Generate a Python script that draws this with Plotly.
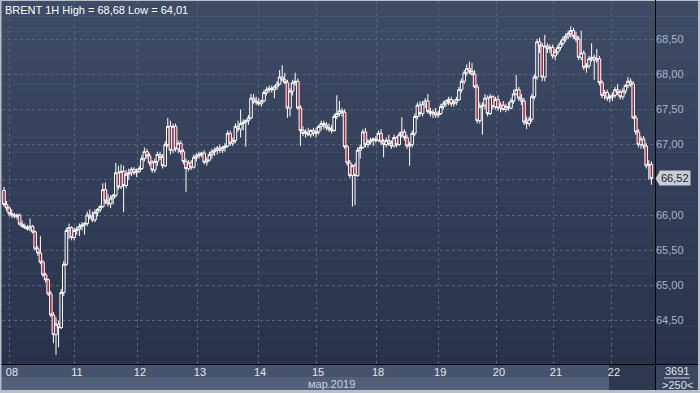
import plotly.graph_objects as go

# ---------------- data (hourly BRENT candles) ----------------
bar_index = list(range(250))

opens = [66.35,66.15,66.10,66.02,66.00,65.98,66.00,65.87,65.84,65.82,65.80,65.84,65.76,65.52,65.46,65.33,65.15,65.08,64.88,64.58,
         64.30,64.45,64.40,64.90,65.30,65.78,65.82,65.68,65.78,65.80,65.84,65.86,65.88,66.00,65.97,65.93,66.04,66.08,66.12,66.36,
         66.20,66.16,66.24,66.28,66.60,66.40,66.62,66.42,66.58,66.60,66.65,66.60,66.62,66.66,66.80,66.90,66.84,66.74,66.64,66.76,
         66.86,66.82,66.70,67.00,67.26,66.92,67.26,66.94,67.02,66.90,66.76,66.66,66.74,66.68,66.82,66.84,66.86,66.88,66.75,66.78,
         66.86,66.90,66.92,66.95,66.92,66.96,66.98,67.16,67.02,67.06,67.26,67.22,67.30,67.32,67.34,67.38,67.66,67.62,67.60,67.58,
         67.62,67.74,67.78,67.80,67.78,67.82,67.86,67.96,67.92,67.88,67.52,67.76,67.88,67.90,67.52,67.20,67.16,67.18,67.14,67.20,
         67.16,67.18,67.26,67.30,67.28,67.24,67.22,67.20,67.40,67.44,67.48,67.46,66.97,66.74,66.56,66.70,66.56,66.92,66.96,67.18,
         67.00,67.04,67.06,67.08,67.06,67.16,67.04,67.00,67.06,67.02,66.98,67.10,67.00,67.14,67.18,67.10,66.98,67.00,67.16,67.40,
         67.56,67.44,67.58,67.62,67.47,67.44,67.46,67.42,67.44,67.54,67.58,67.62,67.64,67.58,67.60,67.64,67.78,67.90,68.02,68.08,
         68.04,68.00,67.82,67.34,67.54,67.56,67.66,67.44,67.68,67.54,67.64,67.52,67.56,67.50,67.54,67.52,67.62,67.72,67.78,67.66,
         67.62,67.32,67.30,67.36,67.68,67.96,68.46,68.40,67.96,68.40,68.36,68.38,68.26,68.32,68.38,68.44,68.50,68.54,68.58,68.62,
         68.54,68.50,68.24,68.30,68.10,68.12,68.22,68.24,68.20,68.22,67.88,67.70,67.74,67.66,67.68,67.70,67.78,67.74,67.68,67.76,
         67.84,67.90,67.86,67.38,67.18,67.00,67.08,66.98,66.70,66.72]

highs = [66.40,66.20,66.12,66.08,66.03,66.02,66.02,65.92,65.88,65.86,65.95,65.86,65.78,65.56,65.70,65.36,65.18,65.10,64.92,64.62,
         64.55,64.50,64.95,65.35,65.82,65.88,65.84,65.82,65.84,65.88,65.90,65.90,66.05,66.08,66.05,66.08,66.10,66.14,66.45,66.46,
         66.30,66.28,66.30,66.74,66.70,66.72,66.70,66.64,66.66,66.68,66.68,66.66,66.70,66.85,66.96,66.94,66.88,66.78,66.80,66.90,
         66.90,66.86,67.05,67.38,67.34,67.30,67.30,67.06,67.06,66.94,66.80,66.78,66.78,66.86,66.88,66.90,66.90,66.92,66.82,66.90,
         66.94,66.96,66.98,67.00,66.98,67.02,67.20,67.20,67.10,67.30,67.34,67.50,67.36,67.36,67.42,67.72,67.72,67.68,67.66,67.64,
         67.78,67.82,67.84,67.84,67.84,67.90,68.06,68.13,68.02,67.92,67.80,67.92,68.02,67.94,67.56,67.26,67.22,67.24,67.22,67.24,
         67.24,67.28,67.34,67.34,67.32,67.30,67.28,67.44,67.70,67.62,67.52,67.50,67.00,66.78,66.72,66.74,66.96,67.00,67.22,67.24,
         67.08,67.10,67.10,67.12,67.20,67.22,67.08,67.10,67.14,67.06,67.14,67.12,67.18,67.39,67.22,67.14,67.04,67.20,67.44,67.60,
         67.62,67.62,67.66,67.72,67.52,67.50,67.52,67.48,67.58,67.62,67.64,67.68,67.68,67.64,67.68,67.82,67.94,68.06,68.14,68.18,
         68.16,68.06,67.86,67.60,67.60,67.72,67.70,67.72,67.70,67.68,67.70,67.60,67.62,67.58,67.60,67.66,67.78,67.99,67.82,67.72,
         67.66,67.40,67.40,67.72,68.00,68.50,68.52,68.44,68.56,68.44,68.42,68.42,68.36,68.42,68.48,68.54,68.58,68.62,68.68,68.66,
         68.60,68.54,68.62,68.34,68.16,68.26,68.44,68.28,68.36,68.26,67.92,67.78,67.78,67.72,67.74,67.82,67.86,67.78,67.80,67.86,
         67.96,67.94,67.90,67.42,67.22,67.12,67.12,67.02,66.78,66.76]

lows = [66.12,66.05,65.98,65.96,65.95,65.94,65.85,65.82,65.80,65.78,65.77,65.74,65.50,65.42,65.30,65.12,65.04,64.85,64.55,64.18,
        64.01,64.12,64.38,64.85,65.28,65.66,65.64,65.64,65.72,65.70,65.78,65.72,65.84,65.94,65.90,65.90,65.98,66.04,66.10,66.16,
        66.12,66.10,66.15,66.25,66.36,66.37,66.04,66.38,66.50,66.55,66.57,66.54,66.60,66.64,66.76,66.80,66.70,66.60,66.60,66.70,
        66.78,66.66,66.68,66.96,66.86,66.88,66.90,66.88,66.86,66.72,66.33,66.62,66.64,66.66,66.76,66.80,66.82,66.72,66.70,66.76,
        66.80,66.84,66.86,66.88,66.88,66.90,66.96,66.98,66.98,67.02,67.18,67.10,67.20,66.97,67.28,67.36,67.58,67.56,67.55,67.54,
        67.60,67.70,67.74,67.74,67.66,67.78,67.84,67.90,67.86,67.38,67.40,67.70,67.84,67.50,66.98,67.12,67.10,67.12,67.10,67.12,
        67.10,67.14,67.20,67.22,67.20,67.18,67.16,67.18,67.36,67.40,67.40,66.94,66.70,66.52,66.12,66.14,66.54,66.80,66.94,66.96,
        66.96,67.00,66.98,67.02,67.04,67.00,66.82,66.96,66.98,66.94,66.96,66.96,66.98,67.10,67.06,66.94,66.70,66.96,67.12,67.36,
        67.40,67.40,67.52,67.44,67.40,67.38,67.38,67.38,67.42,67.50,67.54,67.56,67.54,67.54,67.56,67.62,67.74,67.86,67.98,68.00,
        67.98,67.80,67.30,67.30,67.14,67.50,67.40,67.42,67.50,67.50,67.48,67.46,67.48,67.46,67.48,67.50,67.58,67.70,67.62,67.56,
        67.28,67.22,67.26,67.32,67.64,67.92,68.30,67.90,67.90,68.30,68.30,68.22,68.20,68.28,68.34,68.40,68.46,68.50,68.52,68.50,
        68.46,68.20,68.20,68.06,68.02,68.08,68.18,67.92,68.16,67.84,67.66,67.64,67.62,67.60,67.62,67.66,67.70,67.64,67.64,67.72,
        67.80,67.82,67.36,67.14,66.96,66.94,66.94,66.66,66.50,66.43]

closes = [66.15,66.10,66.02,66.00,65.98,66.00,65.87,65.84,65.82,65.80,65.84,65.76,65.52,65.46,65.33,65.15,65.08,64.88,64.58,64.30,
          64.45,64.40,64.90,65.30,65.78,65.82,65.68,65.78,65.80,65.84,65.86,65.88,66.00,65.97,65.93,66.04,66.08,66.12,66.36,66.20,
          66.16,66.24,66.28,66.60,66.40,66.62,66.42,66.58,66.60,66.65,66.60,66.62,66.66,66.80,66.90,66.84,66.74,66.64,66.76,66.86,
          66.82,66.70,67.00,67.26,66.92,67.26,66.94,67.02,66.90,66.76,66.66,66.74,66.68,66.82,66.84,66.86,66.88,66.75,66.78,66.86,
          66.90,66.92,66.95,66.92,66.96,66.98,67.16,67.02,67.06,67.26,67.22,67.30,67.32,67.34,67.38,67.66,67.62,67.60,67.58,67.62,
          67.74,67.78,67.80,67.78,67.82,67.86,67.96,67.92,67.88,67.52,67.76,67.88,67.90,67.52,67.20,67.16,67.18,67.14,67.20,67.16,
          67.18,67.26,67.30,67.28,67.24,67.22,67.20,67.40,67.44,67.48,67.46,66.97,66.74,66.56,66.70,66.56,66.92,66.96,67.18,67.00,
          67.04,67.06,67.08,67.06,67.16,67.04,67.00,67.06,67.02,66.98,67.10,67.00,67.14,67.18,67.10,66.98,67.00,67.16,67.40,67.56,
          67.44,67.58,67.62,67.47,67.44,67.46,67.42,67.44,67.54,67.58,67.62,67.64,67.58,67.60,67.64,67.78,67.90,68.02,68.08,68.04,
          68.00,67.82,67.34,67.54,67.56,67.66,67.44,67.68,67.54,67.64,67.52,67.56,67.50,67.54,67.52,67.62,67.72,67.78,67.66,67.62,
          67.32,67.30,67.36,67.68,67.96,68.46,68.40,67.96,68.40,68.36,68.38,68.26,68.32,68.38,68.44,68.50,68.54,68.58,68.62,68.54,
          68.50,68.24,68.30,68.10,68.12,68.22,68.24,68.20,68.22,67.88,67.70,67.74,67.66,67.68,67.70,67.78,67.74,67.68,67.76,67.84,
          67.90,67.86,67.38,67.18,67.00,67.08,66.98,66.70,66.72,66.52]

day_labels = ["08", "11", "12", "13", "14", "15", "18", "19", "20", "21", "22"]
day_positions = [2.3, 27.3, 51.5, 74.6, 97.7, 120.0, 143.1, 167.0, 189.6, 211.5, 233.8]
price_ticks = [64.5, 65.0, 65.5, 66.0, 66.5, 67.0, 67.5, 68.0, 68.5]
month_label = "мар.2019"
instrument = "BRENT 1H"
total_bars = 3691
bars_shown = 250

# ---------------- layout geometry (pixels) ----------------
W, H = 700, 393
L, R, T, B = 2, 655, 1, 364


def px(x):
    return (x - L) / (R - L)


def py(y):
    return (B - y) / (B - T)


def fmt(v):
    return f"{v:.2f}".replace(".", ",")


last_close = closes[-1]
# the last-price tag covers the price label lying under it
price_text = ["" if abs(v - last_close) < 0.1 else fmt(v) for v in price_ticks]

fig = go.Figure()
fig.add_trace(go.Candlestick(
    x=bar_index, open=opens, high=highs, low=lows, close=closes,
    increasing=dict(line=dict(color="#ffffff", width=1), fillcolor="#2f3a54"),
    decreasing=dict(line=dict(color="#ffffff", width=1), fillcolor="#b0233c"),
    whiskerwidth=0, hoverinfo="skip", showlegend=False,
))

shapes = []
# vertical gradient background (plot + right axis)
top_c = (63, 76, 102)
bot_c = (40, 50, 75)
N = 48
for k in range(N):
    y0 = T + (B - T) * k / N
    y1 = T + (B - T) * (k + 1) / N + 0.6
    f = (k + 0.5) / N
    c = tuple(int(round(top_c[j] + (bot_c[j] - top_c[j]) * f)) for j in range(3))
    shapes.append(dict(type="rect", xref="paper", yref="paper", layer="below",
                       x0=px(1.5), x1=px(698), y0=py(y1), y1=py(y0),
                       fillcolor=f"rgb{c}", line=dict(width=0)))
# bottom rows
shapes.append(dict(type="rect", xref="paper", yref="paper", layer="below",
                   x0=px(1.5), x1=px(655), y0=py(377), y1=py(364),
                   fillcolor="#46536d", line=dict(width=0)))
shapes.append(dict(type="rect", xref="paper", yref="paper", layer="below",
                   x0=px(1.5), x1=px(655), y0=py(390), y1=py(377),
                   fillcolor="#52607a", line=dict(width=0)))
shapes.append(dict(type="rect", xref="paper", yref="paper", layer="below",
                   x0=px(609), x1=px(655), y0=py(390), y1=py(364),
                   fillcolor="#2e3951", line=dict(width=0)))
shapes.append(dict(type="rect", xref="paper", yref="paper", layer="below",
                   x0=px(655), x1=px(698), y0=py(390), y1=py(364),
                   fillcolor="#3a4660", line=dict(width=0)))
# separator lines
shapes.append(dict(type="line", xref="paper", yref="paper", layer="above",
                   x0=px(655.5), x1=px(655.5), y0=py(390), y1=py(0),
                   line=dict(color="#000000", width=1)))
shapes.append(dict(type="line", xref="paper", yref="paper", layer="above",
                   x0=px(1.5), x1=px(698), y0=py(364.5), y1=py(364.5),
                   line=dict(color="#000000", width=1)))
shapes.append(dict(type="line", xref="paper", yref="paper", layer="above",
                   x0=px(664), x1=px(690), y0=py(378), y1=py(378),
                   line=dict(color="#c8cfdb", width=1)))

# last price tag arrow
yl = py(39 + (68.5 - last_close) * 70.4)
ah = 7.5 / (B - T)
shapes.append(dict(type="path", xref="paper", yref="paper", layer="above",
                   path=f"M {px(655.5)},{yl} L {px(660)},{yl + ah} L {px(660)},{yl - ah} Z",
                   fillcolor="#c9cdd4", line=dict(width=0)))

annotations = [
    dict(text=f"{instrument} High = {fmt(max(highs))} Low = {fmt(min(lows))}",
         xref="paper", yref="paper", x=px(3), y=py(2), xanchor="left", yanchor="top",
         showarrow=False, font=dict(color="#ffffff", size=11)),
    dict(text=month_label, xref="paper", yref="paper", x=px(331), y=py(384),
         xanchor="center", yanchor="middle", showarrow=False,
         font=dict(color="#c9d1de", size=11)),
    dict(text=str(total_bars), xref="paper", yref="paper", x=px(677), y=py(371),
         xanchor="center", yanchor="middle", showarrow=False,
         font=dict(color="#dfe4ec", size=11)),
    dict(text=f"&gt;{bars_shown}&lt;", xref="paper", yref="paper", x=px(677), y=py(384.5),
         xanchor="center", yanchor="middle", showarrow=False,
         font=dict(color="#dfe4ec", size=11)),
    dict(text=fmt(last_close), xref="paper", yref="y", x=px(659), y=last_close,
         xanchor="left", yanchor="middle", showarrow=False, bgcolor="#c9cdd4",
         borderpad=1, font=dict(color="#1e2430", size=11)),
]

fig.update_layout(
    width=W, height=H,
    margin=dict(l=L, r=W - R, t=T, b=H - B, pad=0),
    paper_bgcolor="#b9bfc9",
    plot_bgcolor="rgba(0,0,0,0)",
    separators=", ",
    boxgap=0, boxgroupgap=0,
    font=dict(family="Arial, Liberation Sans, sans-serif", size=11),
    showlegend=False,
    hovermode=False,
    shapes=shapes,
    annotations=annotations,
    xaxis=dict(
        range=[-0.77, 250.38], tickmode="array", tickvals=day_positions, ticktext=day_labels,
        showgrid=True, gridcolor="#57647e", griddash="3px,3px", gridwidth=1,
        zeroline=False, showline=False, ticks="", ticklabelshift=2,
        tickfont=dict(color="#e3e8ef", size=11),
        rangeslider=dict(visible=False), fixedrange=True,
    ),
    yaxis=dict(
        range=[63.884, 69.04], side="right", tickmode="array", tickvals=price_ticks,
        ticktext=price_text, showgrid=True, gridcolor="#57647e", griddash="3px,3px", gridwidth=1,
        zeroline=False, showline=False, ticks="",
        tickfont=dict(color="#a7b6cd", size=11), fixedrange=True,
    ),
)

fig.write_html("out.html")
